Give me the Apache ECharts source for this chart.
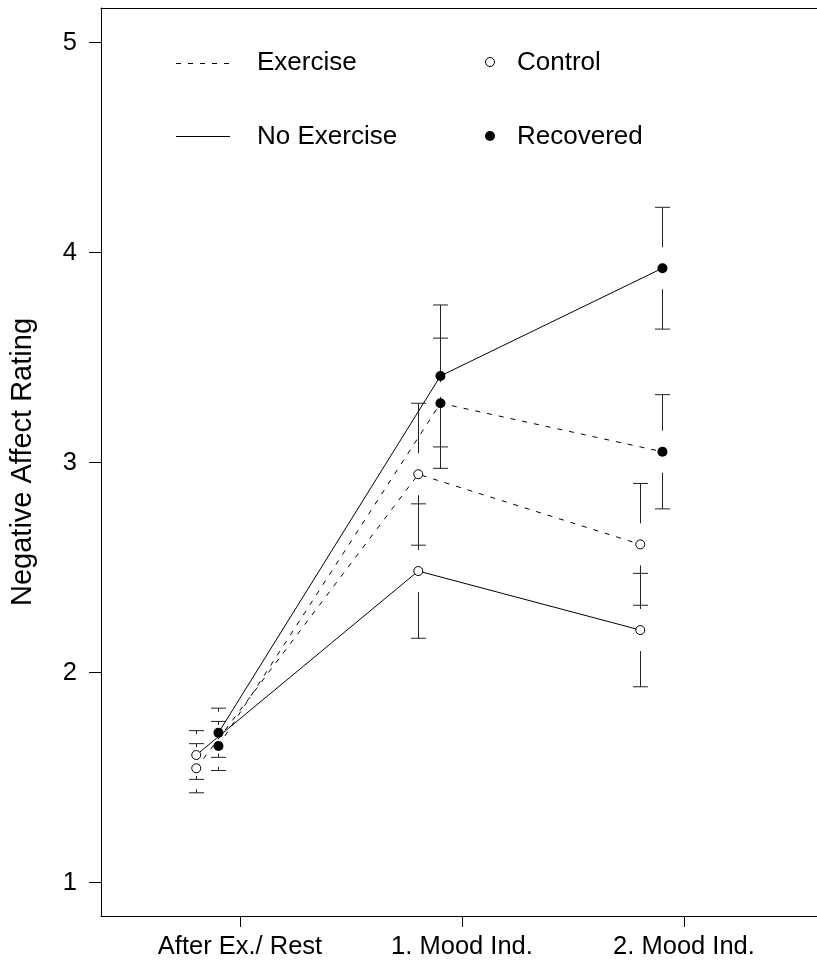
<!DOCTYPE html>
<html>
<head>
<meta charset="utf-8">
<script src="https://cdn.jsdelivr.net/npm/echarts@6.0.0/dist/echarts.min.js"></script>
<style>
  html, body { margin: 0; padding: 0; background: #fff; overflow: hidden; }
  /* box runs past the right edge of the window, as in the source figure */
  #chart { width: 840px; height: 961px; }
</style>
</head>
<body>
<div id="chart"></div>
<script>
  // categories and tick labels
  var categories = ['After Ex./ Rest', '1. Mood Ind.', '2. Mood Ind.'];
  var yTicks = [1, 2, 3, 4, 5];

  // means
  var exControl = [1.545, 2.945, 2.611];
  var exRecovered = [1.651, 3.283, 3.052];
  var noExControl = [1.608, 2.484, 2.203];
  var noExRecovered = [1.714, 3.413, 3.926];

  // error (half width)
  var exControlErr = [0.117, 0.338, 0.29];
  var exRecoveredErr = [0.117, 0.31, 0.272];
  var noExControlErr = [0.116, 0.32, 0.27];
  var noExRecoveredErr = [0.117, 0.338, 0.29];

  var FONT = '"Liberation Sans", Arial, Helvetica, sans-serif';
  // horizontal shift of each group left of its tick
  var OFF_CONTROL = -0.197;
  var OFF_RECOVERED = -0.097;
  var GAP = 21; // px gap around point (plotCI style)
  var CAP = 7.5;
  var X_MIN = 0.3739, X_MAX = 3.5991;

  function pts(vals, off) {
    return vals.map(function (v, i) { return [i + 1 + off, v]; });
  }
  function errPts(vals, errs, off) {
    return vals.map(function (v, i) { return [i + 1 + off, v, errs[i]]; });
  }

  function renderErr(params, api) {
    var x = api.value(0), y = api.value(1), e = api.value(2);
    var p = api.coord([x, y]);
    var top = api.coord([x, y + e]);
    var bot = api.coord([x, y - e]);
    var cx = Math.round(p[0]) + 0.5;
    var style = { stroke: '#222', lineWidth: 1 };
    var children = [];
    if (top[1] < p[1] - GAP) {
      children.push({ type: 'line', shape: { x1: cx, y1: p[1] - GAP, x2: cx, y2: top[1] }, style: style });
      children.push({ type: 'line', shape: { x1: cx - CAP, y1: top[1], x2: cx + CAP, y2: top[1] }, style: style });
    }
    if (bot[1] > p[1] + GAP) {
      children.push({ type: 'line', shape: { x1: cx, y1: p[1] + GAP, x2: cx, y2: bot[1] }, style: style });
      children.push({ type: 'line', shape: { x1: cx - CAP, y1: bot[1], x2: cx + CAP, y2: bot[1] }, style: style });
    }
    return { type: 'group', children: children };
  }

  function lineSeries(vals, off, dashed, filled) {
    return {
      type: 'line',
      data: pts(vals, off),
      symbol: 'circle',
      symbolSize: filled ? 10 : 9,
      z: 3,
      lineStyle: { color: '#000', width: 1, type: dashed ? [5, 7] : 'solid' },
      itemStyle: { color: filled ? '#000' : '#fff', borderColor: '#000', borderWidth: filled ? 0 : 1 },
      emphasis: { disabled: true },
      silent: true
    };
  }

  function errSeries(vals, errs, off) {
    return {
      type: 'custom',
      data: errPts(vals, errs, off),
      renderItem: renderErr,
      encode: { x: 0, y: 1 },
      z: 2,
      silent: true
    };
  }

  var chart = echarts.init(document.getElementById('chart'));
  var option = {
    animation: false,
    backgroundColor: '#fff',
    grid: { left: 101, top: 8, right: 23, bottom: 45 },
    xAxis: [{
      type: 'value',
      min: X_MIN, max: X_MAX,
      splitLine: { show: false },
      axisLine: { show: true, lineStyle: { color: '#000', width: 1 } },
      axisTick: { show: true, length: 11, customValues: [1, 2, 3], lineStyle: { color: '#000' } },
      axisLabel: {
        customValues: [1, 2, 3],
        formatter: function (v) { return categories[Math.round(v) - 1]; },
        color: '#000', fontSize: 25.5, fontFamily: FONT, margin: 18
      }
    }, {
      type: 'value',
      position: 'top',
      min: X_MIN, max: X_MAX,
      splitLine: { show: false },
      axisLine: { show: true, lineStyle: { color: '#000', width: 1 } },
      axisTick: { show: false },
      axisLabel: { show: false }
    }],
    yAxis: {
      type: 'value',
      min: 0.8414, max: 5.165,
      name: 'Negative Affect Rating',
      nameLocation: 'middle',
      nameGap: 64,
      nameTextStyle: { color: '#000', fontSize: 29, fontFamily: FONT },
      splitLine: { show: false },
      axisLine: { show: true, lineStyle: { color: '#000', width: 1 } },
      axisTick: { show: true, length: 12, customValues: yTicks, lineStyle: { color: '#000' } },
      axisLabel: {
        customValues: yTicks,
        color: '#000', fontSize: 25.5, fontFamily: FONT, margin: 24
      }
    },
    graphic: [
      { type: 'line', shape: { x1: 176, y1: 63.5, x2: 230, y2: 63.5 }, style: { stroke: '#000', lineWidth: 1, lineDash: [5, 7] } },
      { type: 'text', x: 257, y: 63, style: { text: 'Exercise', font: '26px ' + FONT, fill: '#000', verticalAlign: 'middle' } },
      { type: 'line', shape: { x1: 176, y1: 136.5, x2: 230, y2: 136.5 }, style: { stroke: '#000', lineWidth: 1 } },
      { type: 'text', x: 257, y: 137, style: { text: 'No Exercise', font: '26px ' + FONT, fill: '#000', verticalAlign: 'middle' } },
      { type: 'circle', shape: { cx: 490, cy: 62, r: 4.5 }, style: { fill: '#fff', stroke: '#000', lineWidth: 1 } },
      { type: 'text', x: 517, y: 63, style: { text: 'Control', font: '26px ' + FONT, fill: '#000', verticalAlign: 'middle' } },
      { type: 'circle', shape: { cx: 490, cy: 136, r: 5 }, style: { fill: '#000' } },
      { type: 'text', x: 517, y: 137, style: { text: 'Recovered', font: '26px ' + FONT, fill: '#000', verticalAlign: 'middle' } }
    ],
    series: [
      errSeries(exControl, exControlErr, OFF_CONTROL),
      errSeries(exRecovered, exRecoveredErr, OFF_RECOVERED),
      errSeries(noExControl, noExControlErr, OFF_CONTROL),
      errSeries(noExRecovered, noExRecoveredErr, OFF_RECOVERED),
      lineSeries(exControl, OFF_CONTROL, true, false),
      lineSeries(exRecovered, OFF_RECOVERED, true, true),
      lineSeries(noExControl, OFF_CONTROL, false, false),
      lineSeries(noExRecovered, OFF_RECOVERED, false, true)
    ]
  };
  chart.setOption(option);
</script>
</body>
</html>
